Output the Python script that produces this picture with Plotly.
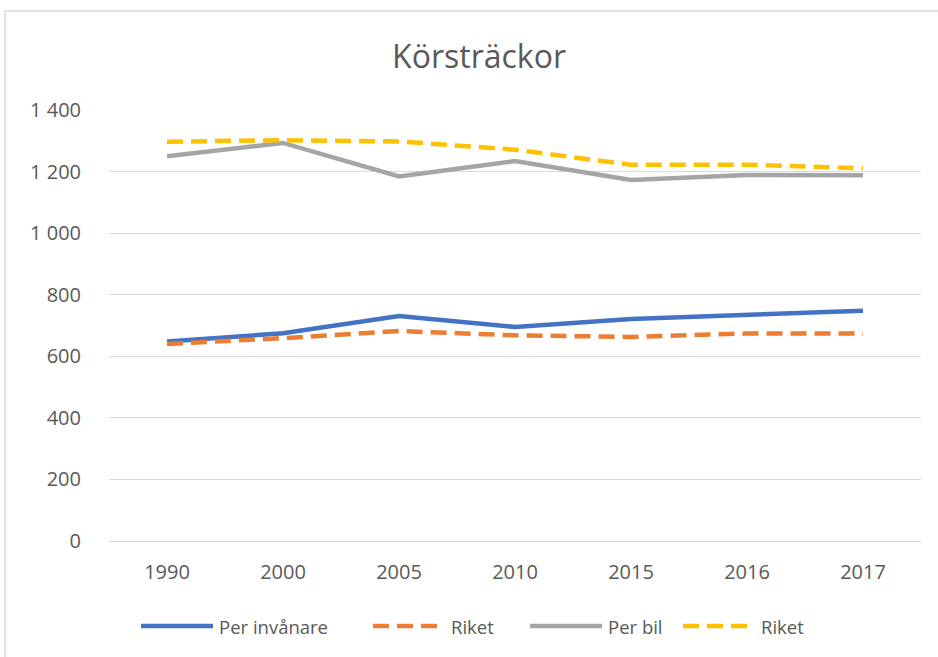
import plotly.graph_objects as go

years = ["1990", "2000", "2005", "2010", "2015", "2016", "2017"]
per_invanare = [648, 675, 731, 695, 721, 734, 748]
riket_inv = [640, 659, 682, 668, 663, 674, 674]
per_bil = [1250, 1293, 1184, 1234, 1173, 1189, 1188]
riket_bil = [1297, 1302, 1298, 1271, 1222, 1222, 1211]

DASH = "16px,8px"
series = [
    ("Per invånare", per_invanare, "#4472C4", "solid"),
    ("Riket", riket_inv, "#ED7D31", DASH),
    ("Per bil", per_bil, "#A5A5A5", "solid"),
    ("Riket", riket_bil, "#FFC000", DASH),
]

W, H = 938, 657
L, R, T, B = 109, 17, 110, 116
pw = W - L - R
ph = H - T - B


def px_x(px):
    return (px - L) / pw


def px_y(py):
    return (H - B - py) / ph


fig = go.Figure()
for name, vals, col, dash in series:
    fig.add_trace(go.Scatter(x=years, y=vals, name=name, mode="lines", showlegend=False,
                             hoverinfo="skip",
                             line=dict(color=col, width=4.5, dash=dash)))

fig.update_layout(
    width=W, height=H,
    margin=dict(l=L, r=R, t=T, b=B),
    paper_bgcolor="white", plot_bgcolor="white",
    separators=", ",
    font=dict(family="Open Sans, Liberation Sans, sans-serif", color="#595959", size=20),
    title=dict(text="Körsträckor", x=479 / W, xanchor="center", y=1 - 57 / H, yanchor="middle",
               font=dict(size=32, color="#595959")),
    showlegend=False,
    xaxis=dict(type="category", range=[-0.5, 6.5], showgrid=False, showline=False,
               ticks="", tickfont=dict(size=20, color="#595959"), ticklabelstandoff=17,
               zeroline=False),
    yaxis=dict(range=[0, 1400], dtick=200, tickformat=",d", showgrid=True,
               gridcolor="#d9d9d9", gridwidth=1, zeroline=True, zerolinecolor="#d9d9d9",
               zerolinewidth=1, showline=False, ticks="",
               tickfont=dict(size=20, color="#595959"), ticklabelstandoff=27),
)

# chart-area border
fig.add_shape(type="rect", xref="paper", yref="paper",
              x0=px_x(5), x1=px_x(W + 10), y0=px_y(H + 10), y1=px_y(11),
              line=dict(color="#d9d9d9", width=1.5), fillcolor="rgba(0,0,0,0)", layer="below")

# legend (drawn manually to match the long legend keys)
legend_starts = [141, 373, 530, 683]
legend_y = 626
for (name, _, col, dash), x0 in zip(series, legend_starts):
    length = 72 if dash == "solid" else 64
    fig.add_shape(type="line", xref="paper", yref="paper",
                  x0=px_x(x0), x1=px_x(x0 + length), y0=px_y(legend_y), y1=px_y(legend_y),
                  line=dict(color=col, width=4.5, dash=dash))
    fig.add_annotation(xref="paper", yref="paper", x=px_x(x0 + 76), y=px_y(legend_y),
                       xanchor="left", yanchor="middle", text=name, showarrow=False,
                       font=dict(size=18.5, color="#595959"))

fig.write_html("out.html", config={"displayModeBar": False},
               post_script="document.body.style.margin='0';")
